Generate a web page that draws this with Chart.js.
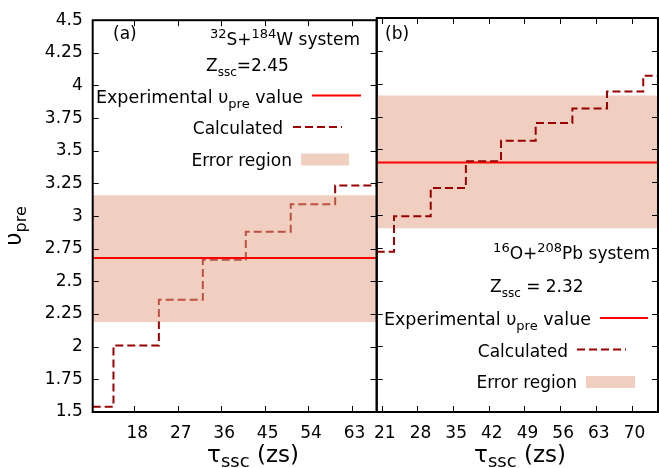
<!DOCTYPE html>
<html>
<head>
<meta charset="utf-8">
<script src="https://cdn.jsdelivr.net/npm/chart.js@4.4.1/dist/chart.umd.min.js"></script>
<style>
  body { margin: 0; background: #fff; }
  #wrap { position: relative; width: 659px; height: 468px; }
  #wrap canvas { position: absolute; left: 0; top: 0; }
</style>
</head>
<body>
<div id="wrap">
  <canvas id="chart-a" width="659" height="468"></canvas>
  <canvas id="chart-b" width="659" height="468"></canvas>
</div>
<script>
// y axis, shared by both panels
var yTicks = [1.5, 1.75, 2, 2.25, 2.5, 2.75, 3, 3.25, 3.5, 3.75, 4, 4.25, 4.5];

// panel (a): 32S+184W
var aXRange = [9.4, 68.2];
var aXTicks = [18, 27, 36, 45, 54, 63];
var aStepX = [9.4, 13.7, 23.1, 32.2, 41.1, 50.4, 59.6, 68.2];
var aStepY = [1.54, 2.01, 2.36, 2.665, 2.88, 3.09, 3.235, 3.235];
var aExp = 2.68;
var aBand = [2.19, 3.16];

// panel (b): 16O+208Pb
var bXRange = [20, 75.2];
var bXTicks = [21, 28, 35, 42, 49, 56, 63, 70];
var bStepX = [20, 23.4, 30.6, 37.5, 44.4, 51.2, 58.4, 65.2, 72.3, 75.2];
var bStepY = [2.72, 2.99, 3.205, 3.41, 3.565, 3.70, 3.81, 3.94, 4.06, 4.06];
var bExp = 3.40;
var bBand = [2.90, 3.91];

var FONT = '"DejaVu Sans", sans-serif';
var RED = '#ff0000';
var DARK = '#9a0000';
var BAND = 'rgba(225, 160, 129, 0.5)';
var DASH = [8, 4];

function pts(xs, ys) {
  var out = [];
  for (var i = 0; i < xs.length; i++) out.push({x: xs[i], y: ys[i]});
  return out;
}

function flat(range, v) {
  return [{x: range[0], y: v}, {x: range[1], y: v}];
}

// draw text made of pieces [text, size, dy]
function rich(ctx, parts, x, y, align) {
  var w = 0;
  parts.forEach(function(p) {
    ctx.font = p[1] + 'px ' + FONT;
    w += ctx.measureText(p[0]).width;
  });
  var cx = x;
  if (align === 'right') cx = x - w;
  if (align === 'center') cx = x - w / 2;
  ctx.textAlign = 'left';
  ctx.textBaseline = 'alphabetic';
  parts.forEach(function(p) {
    ctx.font = p[1] + 'px ' + FONT;
    ctx.fillText(p[0], cx, y + p[2]);
    cx += ctx.measureText(p[0]).width;
  });
}

var expLabel = [['Experimental \u03c5', 17.5, 0], ['pre', 13, 5], [' value', 17.5, 0]];
var xTitle = [['\u03c4', 23, 0], ['ssc', 18, 5], [' (zs)', 23, 0]];

function drawLegend(ctx, lx, ly) {
  // lx: [textRight, sampleLeft, sampleRight] per row, ly: baselines
  rich(ctx, expLabel, lx[0][0], ly[0], 'right');
  ctx.save();
  ctx.strokeStyle = RED;
  ctx.lineWidth = 2;
  ctx.beginPath();
  ctx.moveTo(lx[0][1], ly[0] - 7);
  ctx.lineTo(lx[0][2], ly[0] - 7);
  ctx.stroke();
  ctx.restore();

  rich(ctx, [['Calculated', 17, 0]], lx[1][0], ly[1], 'right');
  ctx.save();
  ctx.strokeStyle = DARK;
  ctx.lineWidth = 2;
  ctx.setLineDash(DASH);
  ctx.beginPath();
  ctx.moveTo(lx[1][1], ly[1] - 7);
  ctx.lineTo(lx[1][2], ly[1] - 7);
  ctx.stroke();
  ctx.restore();

  rich(ctx, [['Error region', 17, 0]], lx[2][0], ly[2], 'right');
  ctx.fillStyle = BAND;
  ctx.fillRect(lx[2][1], ly[2] - 12, lx[2][2] - lx[2][1], 12);
  ctx.fillStyle = '#000';
}

// box with inward ticks on all four sides
var framePlugin = {
  id: 'frame',
  afterDraw: function(chart) {
    var ctx = chart.ctx;
    var a = chart.chartArea;
    var xs = chart.scales.x;
    var ys = chart.scales.y;
    ctx.save();
    ctx.strokeStyle = '#000';
    ctx.lineWidth = 2;
    ctx.strokeRect(a.left, a.top, a.right - a.left, a.bottom - a.top);
    ctx.lineWidth = 1;
    ctx.beginPath();
    xs.ticks.forEach(function(t) {
      var px = Math.round(xs.getPixelForValue(t.value)) + 0.5;
      ctx.moveTo(px, a.bottom); ctx.lineTo(px, a.bottom - 6);
      ctx.moveTo(px, a.top); ctx.lineTo(px, a.top + 6);
    });
    ys.ticks.forEach(function(t) {
      var py = Math.round(ys.getPixelForValue(t.value)) + 0.5;
      ctx.moveTo(a.left, py); ctx.lineTo(a.left + 6, py);
      ctx.moveTo(a.right, py); ctx.lineTo(a.right - 6, py);
    });
    ctx.stroke();

    ctx.fillStyle = '#000';
    if (chart.canvas.id === 'chart-a') {
      rich(ctx, xTitle, 253, 462, 'center');
      ctx.save();
      ctx.translate(21, 226);
      ctx.rotate(-Math.PI / 2);
      rich(ctx, [['\u03c5', 23, 0], ['pre', 16, 5]], 0, 0, 'center');
      ctx.restore();
      rich(ctx, [['(a)', 17, 0]], 113, 39, 'left');
      rich(ctx, [['32', 13, -7], ['S+', 17, 0], ['184', 13, -7], ['W system', 17, 0]], 360, 45, 'right');
      rich(ctx, [['Z', 17, 0], ['ssc', 12, 5], ['=2.45', 17, 0]], 206, 71, 'left');
      drawLegend(ctx, [[303, 312, 361], [283, 293, 342], [292, 301, 349]], [102.5, 134, 165.5]);
    } else {
      rich(ctx, xTitle, 520, 462, 'center');
      rich(ctx, [['(b)', 17, 0]], 385, 39, 'left');
      rich(ctx, [['16', 13, -7], ['O+', 17, 0], ['208', 13, -7], ['Pb system', 17, 0]], 650, 259, 'right');
      rich(ctx, [['Z', 17, 0], ['ssc', 12, 5], [' = 2.32', 17, 0]], 490, 292, 'left');
      drawLegend(ctx, [[591, 600, 648], [568, 577, 626], [577, 586, 635]], [325, 356.5, 388]);
    }
    ctx.restore();
  }
};

function makeOptions(range, xTicks, padding, yWidth, showY) {
  return {
    responsive: false,
    animation: false,
    events: [],
    layout: { padding: padding },
    plugins: { legend: { display: false }, tooltip: { enabled: false } },
    elements: { point: { radius: 0 } },
    scales: {
      x: {
        type: 'linear',
        min: range[0],
        max: range[1],
        grid: { display: false, drawTicks: false },
        border: { display: false },
        afterBuildTicks: function(scale) {
          scale.ticks = xTicks.map(function(v) { return {value: v}; });
        },
        afterFit: function(scale) { scale.height = 56; },
        ticks: {
          color: '#000',
          padding: 11,
          labelOffset: 3,
          maxRotation: 0,
          autoSkip: false,
          font: { family: FONT, size: 17 }
        }
      },
      y: {
        type: 'linear',
        min: 1.5,
        max: 4.5,
        grid: { display: false, drawTicks: false },
        border: { display: false },
        afterBuildTicks: function(scale) {
          scale.ticks = yTicks.map(function(v) { return {value: v}; });
        },
        afterFit: function(scale) { scale.width = yWidth; },
        ticks: {
          display: showY,
          color: '#000',
          padding: 10,
          autoSkip: false,
          font: { family: FONT, size: 17 },
          callback: function(v) { return String(v); }
        }
      }
    }
  };
}

document.addEventListener('DOMContentLoaded', function() {
  // panel (a): band drawn over the step line, red line on top
  new Chart(document.getElementById('chart-a'), {
    type: 'line',
    data: {
      datasets: [
        { label: 'Experimental', data: flat(aXRange, aExp), borderColor: RED, borderWidth: 2 },
        { label: 'Error top', data: flat(aXRange, aBand[1]), borderWidth: 0, fill: '+1', backgroundColor: BAND },
        { label: 'Error bottom', data: flat(aXRange, aBand[0]), borderWidth: 0 },
        { label: 'Calculated', data: pts(aStepX, aStepY), stepped: true, borderColor: DARK, borderWidth: 2, borderDash: DASH }
      ]
    },
    options: makeOptions(aXRange, aXTicks, {top: 18, right: 282.3, left: 0, bottom: 0}, 92.7, true),
    plugins: [framePlugin]
  });

  // panel (b): step line above everything
  new Chart(document.getElementById('chart-b'), {
    type: 'line',
    data: {
      datasets: [
        { label: 'Calculated', data: pts(bStepX, bStepY), stepped: true, borderColor: DARK, borderWidth: 2, borderDash: DASH },
        { label: 'Experimental', data: flat(bXRange, bExp), borderColor: RED, borderWidth: 2 },
        { label: 'Error top', data: flat(bXRange, bBand[1]), borderWidth: 0, fill: '+1', backgroundColor: BAND },
        { label: 'Error bottom', data: flat(bXRange, bBand[0]), borderWidth: 0 }
      ]
    },
    options: makeOptions(bXRange, bXTicks, {top: 18, right: 1, left: 376.7, bottom: 0}, 0, false),
    plugins: [framePlugin]
  });
});
</script>
</body>
</html>
